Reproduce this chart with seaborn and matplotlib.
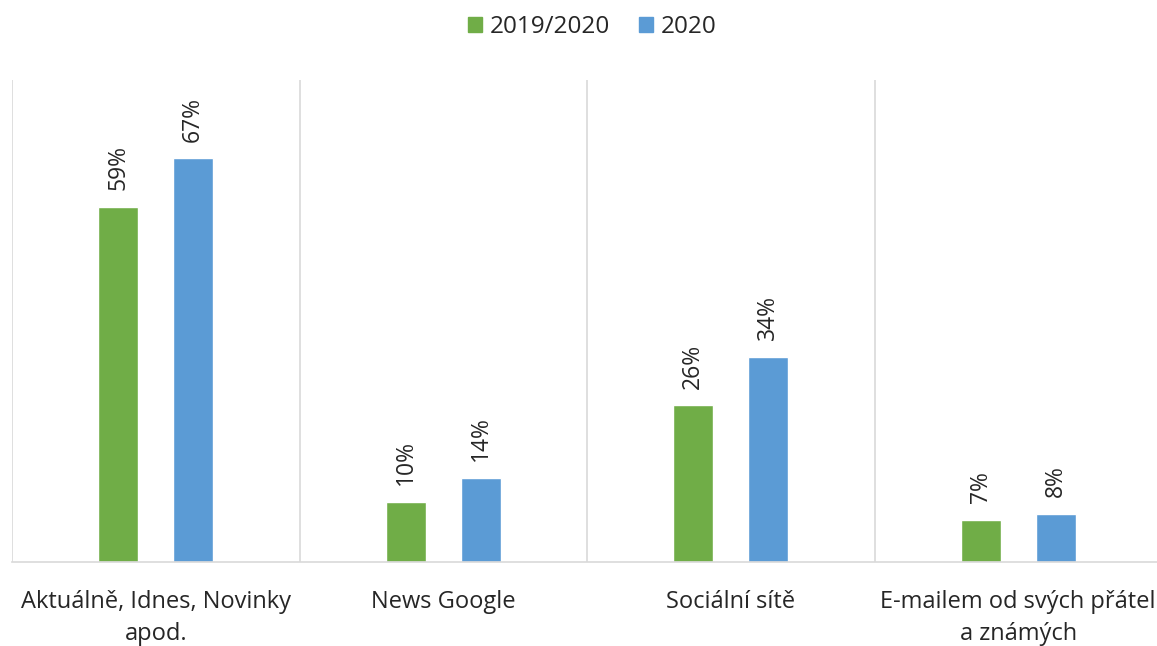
import numpy as np
import pandas as pd
import seaborn as sns
import matplotlib.pyplot as plt

categories = ["Aktuálně, Idnes, Novinky\napod.", "News Google", "Sociální sítě",
              "E-mailem od svých přátel\na známých"]
series = ["2019/2020", "2020"]
values_2019 = [59, 10, 26, 7]
values_2020 = [67, 14, 34, 8]
colors = ["#70ad47", "#5b9bd5"]

df = pd.DataFrame({
    "kategorie": categories * 2,
    "rok": [series[0]] * 4 + [series[1]] * 4,
    "hodnota": values_2019 + values_2020,
})

sns.set_style("white")
plt.rcParams['font.family'] = ['Open Sans', 'DejaVu Sans']

fig = plt.figure(figsize=(11.57, 6.46), dpi=100)
ax = fig.add_axes([12 / 1157, (646 - 562) / 646, 1150 / 1157, (562 - 80) / 646])

sns.barplot(data=df, x="kategorie", y="hodnota", hue="rok", palette=colors,
            width=0.52, gap=0.465, ax=ax, saturation=1, legend=False)

for cont in ax.containers:
    ax.bar_label(cont, labels=[f"{v:.0f}%" for v in cont.datavalues],
                 rotation=90, padding=12, fontsize=16.5)

ax.set_xlim(-0.5, 3.5)
ax.set_ylim(0, 80)
for x in np.arange(-0.5, 4, 1):
    ax.axvline(x, color="#d9d9d9", lw=1.2, zorder=0)
for s in ["top", "right", "left"]:
    ax.spines[s].set_visible(False)
ax.spines["bottom"].set_color("#d9d9d9")
ax.spines["bottom"].set_linewidth(1.2)
ax.set_yticks([])
ax.set_xlabel("")
ax.set_ylabel("")
ax.tick_params(axis="x", length=0, labelsize=17, pad=20)
for t in ax.get_xticklabels():
    t.set_linespacing(1.45)

handles = [plt.Rectangle((0, 0), 1, 1, color=c) for c in colors]
fig.legend(handles, series, loc="center", bbox_to_anchor=(592 / 1157, 1 - 27 / 646), ncol=2,
           frameon=False, fontsize=17.5, handlelength=0.6, handleheight=0.6,
           handletextpad=0.3, columnspacing=1.2)

fig.savefig("out.png", dpi=100)
